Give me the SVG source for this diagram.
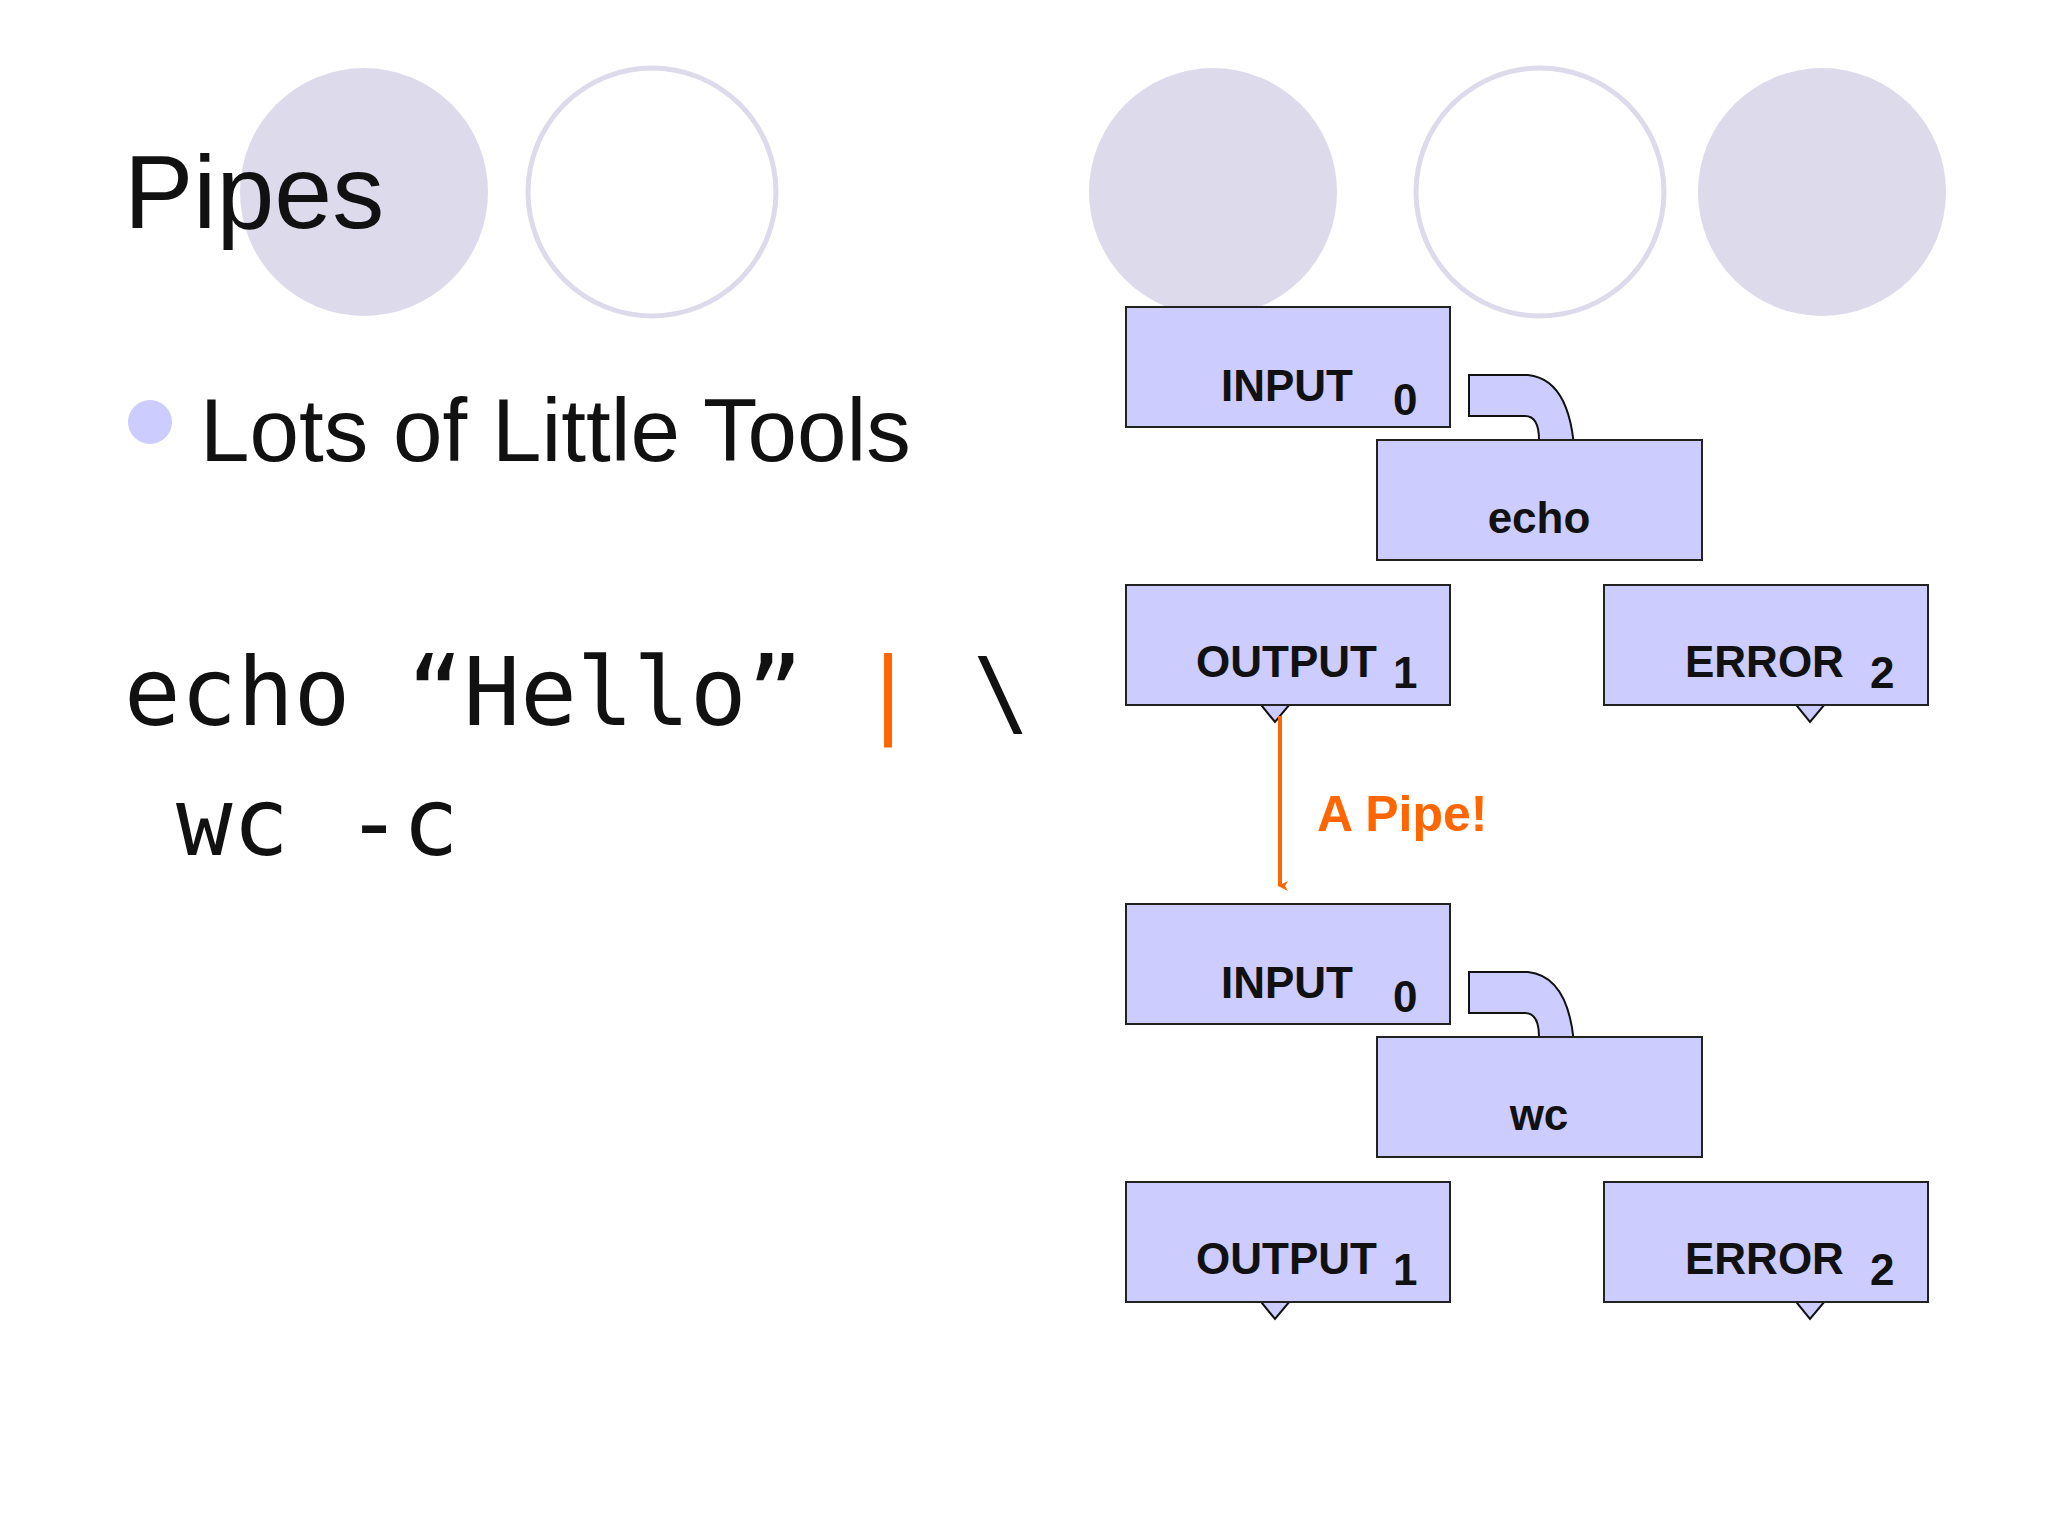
<svg xmlns="http://www.w3.org/2000/svg" width="2048" height="1536" viewBox="0 0 2048 1536">
<style>
.cf{fill:#dcdaeb}
.co{fill:#fff;stroke:#dcdaeb;stroke-width:5}
.box{fill:#ccccff;stroke:#222;stroke-width:2}
.bt{font-family:"Liberation Sans",Arial,sans-serif;font-weight:bold;font-size:44px;fill:#111}
.arr{fill:#ccccff;stroke:#111;stroke-width:2;stroke-linejoin:miter}
.mono{font-family:"DejaVu Sans Mono",monospace;font-size:94px;fill:#111}
</style>
<defs>
<marker id="ah" markerWidth="10" markerHeight="10" refX="5" refY="8" orient="auto" markerUnits="userSpaceOnUse" viewBox="0 0 10 10">
<path d="M0,0 L5,10 L10,0 L5,3 Z" fill="#ff6600"/>
</marker>
<path id="arT" d="M1469,375 L1528,375 Q1575,380 1575,471 L1592,471 L1557,512 L1521,471 L1539,471 L1539,440 Q1539,416 1525,416 L1469,416 Z"/>
<path id="arL" d="M1363,585 L1325,585 Q1257,590 1257,679 L1240,679 L1275,722 L1311,679 L1294,679 L1294,650 Q1296,625 1310,625 L1363,625 Z"/>
<path id="arR" d="M1721,585 L1760,585 Q1827,590 1827,679 L1846,679 L1810,722 L1775,679 L1791,679 L1791,650 Q1789,625 1776,625 L1721,625 Z"/>
</defs>
<rect width="2048" height="1536" fill="#fff"/>
<g id="decor">
<circle class="cf" cx="364" cy="192" r="124"/>
<circle class="co" cx="652" cy="192" r="124"/>
<circle class="cf" cx="1213" cy="192" r="124"/>
<circle class="co" cx="1540" cy="192" r="124"/>
<circle class="cf" cx="1822" cy="192" r="124"/>
</g>
<g id="slide-text">
<text x="124" y="228" font-family="'Liberation Sans',Arial,sans-serif" font-size="104" fill="#111">Pipes</text>
<circle cx="150" cy="422" r="22" fill="#ccccff"/>
<text x="200" y="461" font-family="'Liberation Sans',Arial,sans-serif" font-size="89" fill="#111">Lots of Little Tools</text>
<text class="mono" x="124" y="725" xml:space="preserve">echo “Hello” <tspan fill="#ff6600">|</tspan> \</text>
<text class="mono" x="176" y="855">wc -c</text>
</g>
<g id="connectors">
<use href="#arT" class="arr"/>
<use href="#arL" class="arr"/>
<use href="#arR" class="arr"/>
<g transform="translate(0,597)">
<use href="#arT" class="arr"/>
<use href="#arL" class="arr"/>
<use href="#arR" class="arr"/>
</g>
<line x1="1280" y1="716" x2="1280" y2="886" stroke="#ff6600" stroke-width="4" marker-end="url(#ah)"/>
<text x="1317" y="831" font-family="'Liberation Sans',Arial,sans-serif" font-weight="bold" font-size="50" fill="#ff6600">A Pipe!</text>
</g>
<g id="input1"><rect class="box" x="1126" y="307" width="324" height="120"/><text class="bt" x="1221" y="401">INPUT</text><text class="bt" x="1393" y="415">0</text></g>
<g id="echo"><rect class="box" x="1377" y="440" width="325" height="120"/><text class="bt" x="1539" y="533" text-anchor="middle">echo</text></g>
<g id="output1"><rect class="box" x="1126" y="585" width="324" height="120"/><text class="bt" x="1196" y="677">OUTPUT</text><text class="bt" x="1393" y="688">1</text></g>
<g id="error1"><rect class="box" x="1604" y="585" width="324" height="120"/><text class="bt" x="1685" y="677">ERROR</text><text class="bt" x="1870" y="688">2</text></g>
<g id="input2"><rect class="box" x="1126" y="904" width="324" height="120"/><text class="bt" x="1221" y="998">INPUT</text><text class="bt" x="1393" y="1012">0</text></g>
<g id="wc"><rect class="box" x="1377" y="1037" width="325" height="120"/><text class="bt" x="1539" y="1130" text-anchor="middle">wc</text></g>
<g id="output2"><rect class="box" x="1126" y="1182" width="324" height="120"/><text class="bt" x="1196" y="1274">OUTPUT</text><text class="bt" x="1393" y="1285">1</text></g>
<g id="error2"><rect class="box" x="1604" y="1182" width="324" height="120"/><text class="bt" x="1685" y="1274">ERROR</text><text class="bt" x="1870" y="1285">2</text></g>
</svg>
